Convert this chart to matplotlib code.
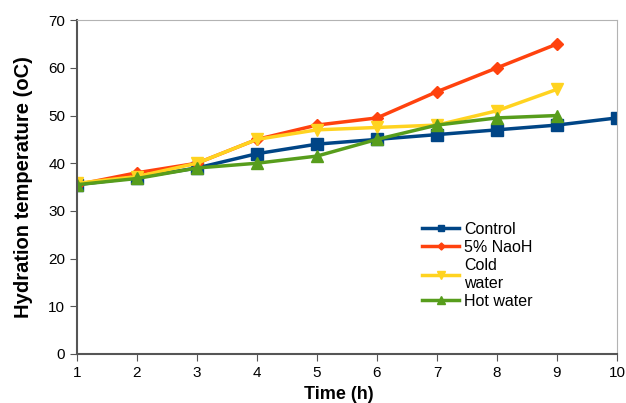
import matplotlib
matplotlib.use("Agg")
import matplotlib.pyplot as plt

plt.rcParams['font.family'] = ['Liberation Sans', 'DejaVu Sans']

hours = [1, 2, 3, 4, 5, 6, 7, 8, 9, 10]
control = [35.5, 37, 39, 42, 44, 45, 46, 47, 48, 49.5]
naoh = [35.5, 38, 40, 45, 48, 49.5, 55, 60, 65]
cold = [35.8, 37.2, 40, 45, 47, 47.5, 48, 51, 55.5]
hot = [35.5, 36.8, 39, 40, 41.5, 45, 48, 49.5, 50]

fig = plt.figure(figsize=(6.26, 4.03), dpi=100)
ax = fig.add_axes([0.123, 0.1216, 0.8626, 0.8284])

ax.plot(hours, control, color='#004586', lw=2.5, marker='s', ms=8, label='Control')
ax.plot(hours[:9], naoh, color='#ff420e', lw=2.5, marker='D', ms=6, label='5% NaoH')
ax.plot(hours[:9], cold, color='#ffd320', lw=2.5, marker='v', ms=9, label='Cold\nwater')
ax.plot(hours[:9], hot, color='#579d1c', lw=2.5, marker='^', ms=9, label='Hot water')

ax.set_xlim(1, 10)
ax.set_ylim(0, 70)
ax.set_xticks(hours)
ax.set_yticks(range(0, 71, 10))
ax.tick_params(direction='out', length=5, color='#555555', labelsize=11)
for s in ['left', 'bottom']:
    ax.spines[s].set_color('#555555')
    ax.spines[s].set_linewidth(1.5)
for s in ['top', 'right']:
    ax.spines[s].set_color('#b3b3b3')

ax.set_xlabel('Time (h)', fontsize=13, fontweight='bold', labelpad=3)
ax.xaxis.set_label_coords(0.484, -0.095)
ax.set_ylabel('Hydration temperature (oC)', fontsize=14.5, fontweight='bold', labelpad=11)

ax.legend(loc='upper left', bbox_to_anchor=(0.625, 0.42), frameon=False,
          fontsize=11.5, handlelength=2.3, handletextpad=0.3, labelspacing=0.2,
          borderpad=0, markerscale=0.6)

fig.savefig('out.png', dpi=100)
